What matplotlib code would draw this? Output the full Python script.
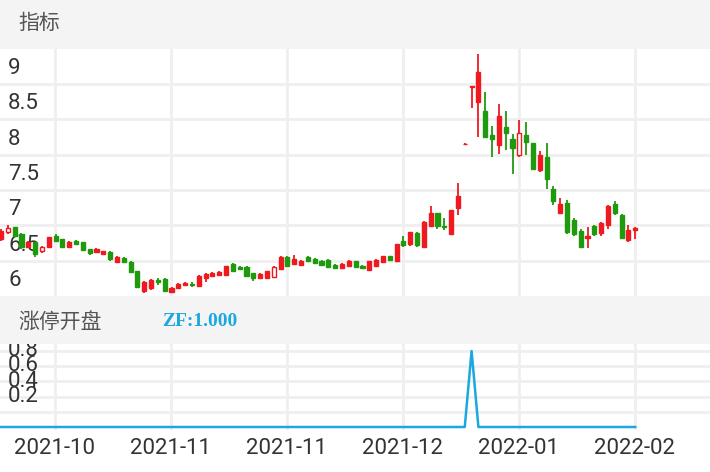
import matplotlib
matplotlib.use("Agg")
import matplotlib.pyplot as plt
from matplotlib.transforms import blended_transform_factory, offset_copy
import numpy as np

plt.rcParams['font.family'] = ['Roboto', 'Noto Sans CJK SC', 'DejaVu Sans']

opens = [6.80,6.90,6.97,6.87,6.70,6.76,6.63,6.70,6.85,6.80,6.70,6.78,6.76,6.66,6.62,6.60,6.62,6.48,6.54,6.48,
         6.35,6.07,6.11,6.23,6.24,6.06,6.11,6.15,6.17,6.14,6.25,6.28,6.29,6.30,6.45,6.41,6.41,6.32,6.26,6.26,
         6.27,6.38,6.55,6.45,6.44,6.55,6.53,6.50,6.51,6.44,6.39,6.42,6.49,6.43,6.37,6.43,6.48,6.56,6.49,6.78,
         6.73,6.89,6.69,6.99,7.17,6.99,6.87,7.24,8.15,8.96,8.75,8.62,8.27,8.14,8.39,8.22,8.00,8.28,8.17,7.78,
         7.96,7.52,7.18,7.32,7.08,6.92,6.82,6.99,6.89,7.00,7.30,7.14,6.79,6.94]
closes = [6.92,6.96,6.85,6.70,6.77,6.59,6.70,6.83,6.78,6.70,6.77,6.74,6.65,6.61,6.66,6.63,6.52,6.55,6.48,6.34,
          6.13,6.20,6.23,6.20,6.07,6.12,6.17,6.19,6.15,6.28,6.31,6.33,6.34,6.42,6.35,6.38,6.28,6.25,6.31,6.35,
          6.41,6.55,6.42,6.52,6.50,6.49,6.47,6.44,6.41,6.40,6.45,6.50,6.41,6.40,6.49,6.51,6.56,6.51,6.73,6.72,
          6.90,6.72,7.05,7.18,6.99,6.97,7.21,7.41,8.15,8.97,9.17,8.25,8.22,8.55,8.31,8.10,8.30,8.18,7.80,7.99,
          7.65,7.34,7.30,6.91,6.87,6.70,6.85,6.87,7.03,7.27,7.18,6.82,6.93,6.96]
highs = [6.95,7.00,6.98,6.89,6.78,6.77,6.71,6.84,6.87,6.81,6.78,6.79,6.77,6.67,6.68,6.64,6.63,6.56,6.55,6.49,
         6.36,6.21,6.24,6.26,6.25,6.13,6.18,6.20,6.20,6.29,6.32,6.34,6.35,6.43,6.46,6.42,6.42,6.33,6.32,6.36,
         6.42,6.57,6.56,6.58,6.51,6.56,6.54,6.51,6.52,6.45,6.46,6.51,6.50,6.44,6.50,6.52,6.57,6.57,6.74,6.85,
         6.91,6.90,7.06,7.27,7.18,7.11,7.22,7.60,8.16,8.97,9.42,8.89,8.41,8.72,8.62,8.29,8.49,8.46,8.17,8.05,
         8.16,7.56,7.38,7.36,7.10,6.95,6.97,7.01,7.04,7.28,7.34,7.16,7.00,6.97]
lows = [6.78,6.88,6.83,6.66,6.68,6.55,6.61,6.69,6.77,6.69,6.69,6.72,6.64,6.58,6.61,6.59,6.50,6.47,6.47,6.33,
        6.12,6.04,6.09,6.16,6.05,6.05,6.10,6.14,6.13,6.13,6.20,6.27,6.28,6.29,6.34,6.37,6.27,6.21,6.25,6.25,
        6.26,6.37,6.41,6.44,6.43,6.48,6.46,6.42,6.40,6.38,6.38,6.41,6.40,6.39,6.36,6.42,6.47,6.50,6.48,6.70,
        6.71,6.70,6.68,6.98,6.95,6.94,6.86,7.14,8.14,8.66,8.25,8.25,7.96,8.01,8.06,7.73,7.97,8.00,7.78,7.75,
        7.52,7.28,7.17,6.88,6.85,6.70,6.68,6.85,6.85,6.95,7.14,6.82,6.77,6.80]
hollow_idx = [1, 6, 40, 76]
zf = [0.0] * 94
zf[69] = 1.0
x_ticks = [7.9, 24.9, 41.9, 58.9, 75.9, 92.9]
x_labels = ['2021-10', '2021-11', '2021-11', '2021-12', '2022-01', '2022-02']
main_yticks = [6.5, 7, 7.5, 8, 8.5, 9]
main_ylabels = ['6', '6.5', '7', '7.5', '8', '8.5', '9']
sub_yticks = [0.2, 0.4, 0.6, 0.8]

W, H = 710, 472
RED, GREEN, BLUE = '#ee1a1f', '#1f9a0f', '#1ba8df'
GRID = '#efefef'
fig = plt.figure(figsize=(W/100, H/100), dpi=100)
fig.patch.set_facecolor('white')

def band(y0, y1, color):
    fig.patches.append(plt.Rectangle((0, 1-y1/H), 1, (y1-y0)/H, transform=fig.transFigure,
                                     facecolor=color, edgecolor='none', zorder=-5))
band(0, 49, '#f4f4f4')
band(296, 344, '#f4f4f4')
fig.text(18/W, 1-23/H, '指标', fontsize=15, color='#555555', va='center', family=['Noto Sans CJK SC'])
fig.text(18/W, 1-322/H, '涨停开盘', fontsize=15, color='#555555', va='center', family=['Noto Sans CJK SC'])
fig.text(162/W, 1-322/H, 'ZF:1.000', fontsize=14, color=BLUE, va='center', fontweight='bold',
         family=['Liberation Serif'])

xl = (-1/6.82, 709/6.82)
n = len(opens)
xs = np.arange(n)

ax = fig.add_axes([0, 1-296/H, 1, (296-49)/H])
ax.set_xlim(*xl)
ax.set_ylim(6.0, 9.493)
ax.axis('off')
for v in main_yticks:
    ax.axhline(v, color=GRID, lw=2, zorder=0)
for t in x_ticks:
    ax.axvline(t, color=GRID, lw=2, zorder=0)
for i in range(n):
    o, c, h, l = opens[i], closes[i], highs[i], lows[i]
    col = RED if c >= o else GREEN
    ax.vlines(xs[i], l, h, color=col, lw=1.3, zorder=2)
    bot, ht = min(o, c), max(abs(c - o), 0.004)
    fc = 'white' if i in hollow_idx else col
    ax.bar(xs[i], ht, bottom=bot, width=0.6, color=fc, edgecolor=col, linewidth=1.0, zorder=3)
tr = offset_copy(blended_transform_factory(ax.transAxes, ax.transData), fig=fig, x=0, y=5, units='dots')
for v, lab in zip([6] + main_yticks, main_ylabels):
    ax.text(8/W, v, lab, transform=tr, fontsize=16, color='#333333', va='bottom', ha='left', zorder=1)

ax2 = fig.add_axes([0, 1-430/H, 1, (430-344)/H])
ax2.set_xlim(*xl)
ax2.set_ylim(-3/76, 1+7/76)
ax2.axis('off')
for v in sub_yticks + [1.0]:
    ax2.axhline(v, color=GRID, lw=2, zorder=0)
for t in x_ticks:
    ax2.axvline(t, color=GRID, lw=2, zorder=0)
ax2.plot(xs, zf, color=BLUE, lw=1.8, zorder=3)
tr2 = offset_copy(blended_transform_factory(ax2.transAxes, ax2.transData), fig=fig, x=0, y=5, units='dots')
for v in sub_yticks:
    ax2.text(8/W, v, f'{v:.1f}', transform=tr2, fontsize=16, color='#333333', va='bottom', ha='left',
             clip_on=True, zorder=1)

for t, lab in zip(x_ticks, x_labels):
    xp = (1 + 6.82 * t) / W
    fig.text(xp, 1-448/H, lab, fontsize=16, color='#333333', ha='center', va='center')

fig.savefig('out.png', dpi=100)
